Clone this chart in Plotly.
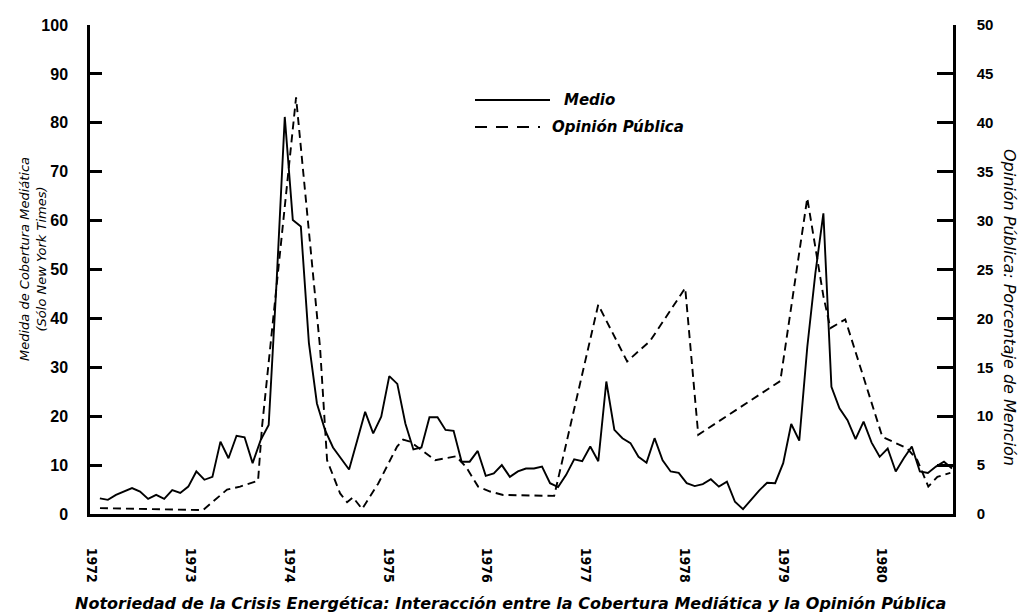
import numpy as np
import plotly.graph_objects as go

# ---------------- data ----------------
year_ticks = [1972, 1973, 1974, 1975, 1976, 1977, 1978, 1979, 1980]

# Media coverage (New York Times), left axis, roughly monthly from early 1972 to mid 1980
medio = [3.2, 2.9, 3.9, 4.6, 5.3, 4.6, 3.1, 3.9, 3.1, 4.9,
         4.3, 5.6, 8.7, 7.0, 7.6, 14.8, 11.4, 16.0, 15.7, 10.4,
         15.1, 18.2, 48.0, 81.2, 60.1, 58.8, 35.0, 22.6, 17.2, 13.6,
         11.3, 9.1, 15.0, 20.9, 16.5, 19.9, 28.2, 26.6, 18.5, 13.2,
         13.6, 19.8, 19.8, 17.2, 17.0, 10.7, 10.7, 12.9, 7.8, 8.3,
         10.0, 7.6, 8.7, 9.3, 9.3, 9.7, 6.3, 5.5, 8.0, 11.2,
         10.8, 13.8, 10.8, 27.1, 17.2, 15.5, 14.5, 11.7, 10.5, 15.5,
         11.0, 8.7, 8.4, 6.3, 5.7, 6.1, 7.1, 5.6, 6.6, 2.5,
         1.0, 2.9, 4.8, 6.4, 6.3, 10.4, 18.4, 15.0, 34.2, 49.2,
         61.5, 26.0, 21.6, 19.2, 15.3, 18.9, 14.6, 11.7, 13.4, 8.7,
         11.4, 13.8, 8.7, 8.4, 9.7, 10.7, 9.3]
medio_first_date = 1972.08
medio_last_date = 1980.71
medio_dates = np.linspace(medio_first_date, medio_last_date, len(medio))

# Public opinion (percentage mentioning), right axis, survey dates
opinion_dates = [1972.081, 1973.125, 1973.368, 1973.500, 1973.682, 1973.722,
                 1974.067, 1974.310, 1974.381, 1974.513, 1974.584, 1974.644,
                 1974.736, 1974.898, 1975.090, 1975.151, 1975.222, 1975.303,
                 1975.475, 1975.688, 1975.789, 1975.911, 1976.032, 1976.164,
                 1976.681, 1977.127, 1977.420, 1977.653, 1978.008, 1978.140,
                 1978.971, 1979.244, 1979.407, 1979.478, 1979.629, 1980.004,
                 1980.258, 1980.359, 1980.470, 1980.562, 1980.693]
opinion = [0.6, 0.4, 2.5, 2.8, 3.4, 8.9,
           42.6, 17.0, 5.5, 2.1, 1.2, 1.7,
           0.5, 3.1, 6.9, 7.6, 7.4, 6.8,
           5.5, 5.9, 4.8, 2.8, 2.3, 1.95,
           1.85, 21.4, 15.6, 17.7, 23.1, 8.1,
           13.6, 32.3, 22.3, 19.0, 19.9, 7.9,
           6.7, 5.5, 2.8, 3.8, 4.2]

series_names = ["Medio", "Opinión Pública"]
left_title = "Medida de Cobertura Mediática<br>(Sólo New York Times)"
right_title = "Opinión Pública: Porcentaje de Mención"
chart_title = ("Notoriedad de la Crisis Energética: Interacción entre la "
               "Cobertura Mediática y la Opinión Pública")

# ---------------- layout geometry (pixels) ----------------
W, H = 1021, 615
L, R, T, B = 90, 953, 25, 514


def px(x):
    return (x - L) / (R - L)


def py(y):
    return (B - y) / (B - T)


FONT = "DejaVu Sans"
NUM_FONT = "Liberation Sans, Arial, DejaVu Sans"
YEAR_FONT = "Liberation Sans Narrow, Arial Narrow, DejaVu Sans Condensed, DejaVu Sans"

fig = go.Figure()
fig.add_trace(go.Scatter(x=medio_dates, y=medio, mode="lines", name=series_names[0],
                         line=dict(color="black", width=1.9), yaxis="y"))
fig.add_trace(go.Scatter(x=opinion_dates, y=opinion, mode="lines", name=series_names[1],
                         line=dict(color="black", width=1.9, dash="8px,5px"), yaxis="y2"))


def tickfont(family, size):
    return dict(family=family, size=size, color="black", weight="bold")


fig.update_layout(
    width=W, height=H,
    margin=dict(l=L, r=W - R, t=T, b=H - B, pad=0, autoexpand=False),
    paper_bgcolor="white", plot_bgcolor="white",
    showlegend=False,
    xaxis=dict(range=[1971.98, 1980.72], tickvals=year_ticks,
               ticktext=[str(y) for y in year_ticks], tickangle=90,
               showgrid=False, zeroline=False, showline=True, linecolor="black",
               linewidth=3, ticks="", ticklabelstandoff=28,
               tickfont=tickfont(YEAR_FONT, 14)),
    yaxis=dict(range=[0, 100], dtick=10, showgrid=False, zeroline=False,
               showline=True, linecolor="black", linewidth=2.5,
               ticks="inside", ticklen=12, tickwidth=2.5, tickcolor="black",
               ticklabelstandoff=16, tickfont=tickfont(NUM_FONT, 16)),
    yaxis2=dict(range=[0, 50], dtick=5, overlaying="y", side="right",
                showgrid=False, zeroline=False, showline=True, linecolor="black",
                linewidth=2.5, ticks="inside", ticklen=16, tickwidth=2.5,
                tickcolor="black", ticklabelstandoff=18, tickfont=tickfont(NUM_FONT, 15)),
)

bold_italic = dict(family=FONT, color="black", style="italic", weight="bold")

annotations = [
    dict(text=left_title, x=px(33), y=py(259), xref="paper", yref="paper",
         textangle=-90, showarrow=False, xanchor="center", yanchor="middle",
         font=dict(family=FONT, size=13, color="black", style="italic")),
    dict(text=right_title, x=px(1010), y=py(308), xref="paper", yref="paper",
         textangle=90, showarrow=False, xanchor="center", yanchor="middle",
         font=dict(family=FONT, size=16, color="black", style="italic")),
    dict(text=chart_title, x=px(510), y=py(603), xref="paper", yref="paper",
         showarrow=False, xanchor="center", yanchor="middle",
         font=dict(size=16, **bold_italic)),
    dict(text=series_names[0], x=px(562), y=py(100), xref="paper", yref="paper",
         showarrow=False, xanchor="left", yanchor="middle",
         font=dict(size=15, **bold_italic)),
    dict(text=series_names[1], x=px(550), y=py(127), xref="paper", yref="paper",
         showarrow=False, xanchor="left", yanchor="middle",
         font=dict(size=15, **bold_italic)),
]
fig.update_layout(annotations=annotations)

shapes = [
    dict(type="line", xref="paper", yref="paper", x0=px(475), x1=px(550),
         y0=py(100), y1=py(100), line=dict(color="black", width=1.9)),
    dict(type="line", xref="paper", yref="paper", x0=px(475), x1=px(540),
         y0=py(127), y1=py(127), line=dict(color="black", width=2, dash="12px,9px")),
]
fig.update_layout(shapes=shapes)

fig.write_html("out.html", config={"displayModeBar": False},
               post_script="document.body.style.margin='0';")
